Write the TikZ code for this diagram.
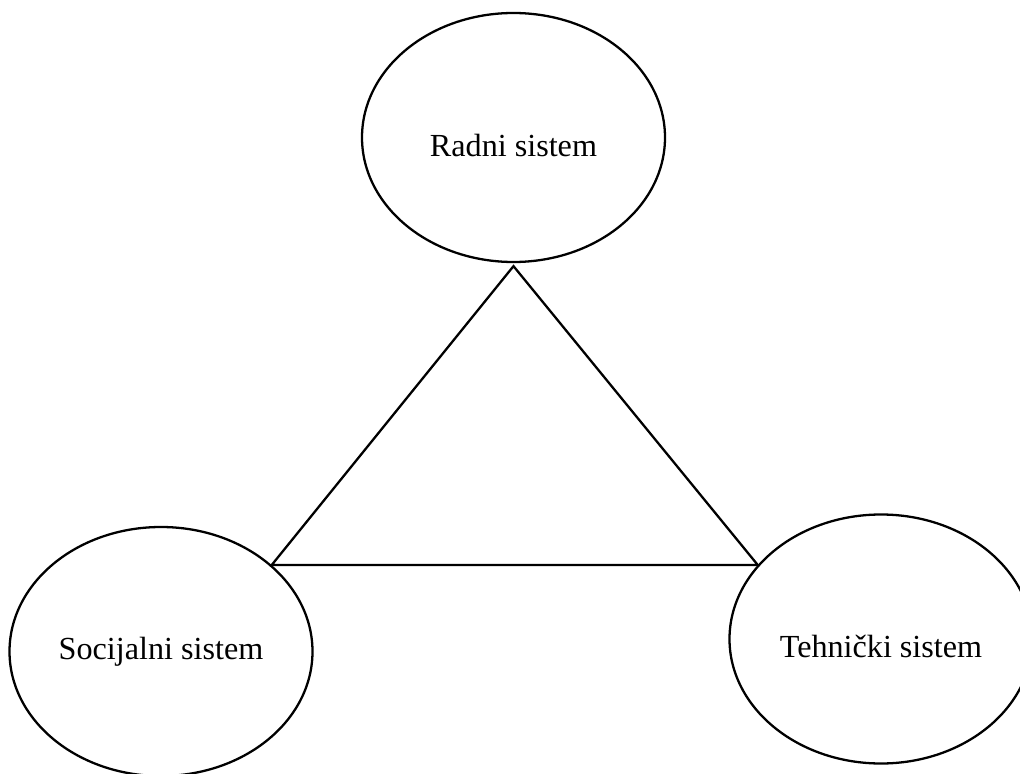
\documentclass[tikz,border=0pt]{standalone}
\usepackage{fontspec}
\setmainfont{Liberation Serif}
\usetikzlibrary{shapes.geometric}

\tikzset{
  sistem/.style={draw, ellipse, line width=1.3pt, inner sep=0pt,
    minimum width=6.06cm, minimum height=4.98cm,
    font=\fontsize{18.3}{22}\selectfont},
  veza/.style={line width=1.3pt, line join=miter}
}

\begin{document}
\begin{tikzpicture}

% bounding box
\useasboundingbox (0,0) rectangle (20.4,15.46);

% radni sistem
\node[sistem, text height=22pt, text depth=0pt] (radni) at (10.27,12.71) {Radni sistem};

% socijalni sistem
\node[sistem] (socijalni) at (3.22,2.43) {Socijalni sistem};

% tehnicki sistem
\node[sistem, text height=21.5pt, text depth=0pt] (tehnicki) at (17.62,2.68) {Tehnički sistem};

% trokut
\coordinate (vrh) at ([yshift=-0.06cm]radni.south);
\draw[veza] (vrh) -- (socijalni.38) -- (tehnicki.149) -- cycle;

\end{tikzpicture}
\end{document}
